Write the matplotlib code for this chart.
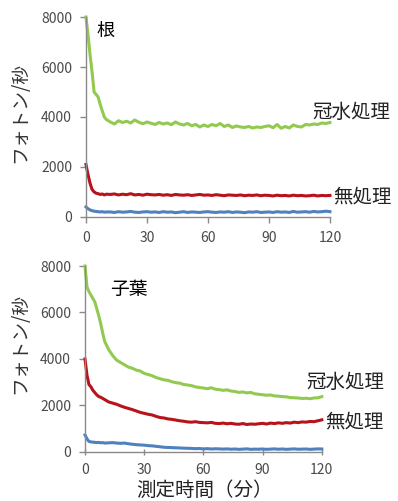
import matplotlib
matplotlib.use('Agg')
import matplotlib.pyplot as plt

plt.rcParams['font.family'] = ['Noto Sans CJK JP', 'DejaVu Sans']

# time axis (min): every minute for the first 10, then every 2 minutes
minutes = list(range(0, 11)) + list(range(12, 121, 2))

# root (根)
root_flooded = [8000, 7300, 6500, 5800, 5000, 4900, 4800, 4500, 4250, 4000, 3900,
                3800, 3720, 3850, 3780, 3830, 3760, 3880, 3790, 3730, 3800,
                3750, 3700, 3780, 3720, 3760, 3690, 3800, 3720, 3680, 3740,
                3650, 3700, 3600, 3680, 3620, 3700, 3650, 3740, 3620, 3680,
                3580, 3640, 3600, 3580, 3620, 3560, 3600, 3580, 3620, 3650,
                3570, 3700, 3550, 3620, 3560, 3680, 3620, 3600, 3700, 3680,
                3720, 3700, 3760, 3740, 3780]
root_control = [2100, 1700, 1350, 1100, 1000, 950, 930, 900, 920, 880, 910,
                900, 920, 880, 910, 890, 930, 880, 900, 870, 910,
                890, 880, 900, 870, 890, 860, 900, 880, 870, 890,
                860, 880, 900, 870, 880, 860, 890, 870, 850, 880,
                870, 860, 880, 850, 870, 860, 880, 850, 870, 860,
                840, 870, 850, 860, 840, 870, 850, 860, 840, 850,
                870, 840, 860, 850, 860]
root_dark = [400, 330, 280, 250, 230, 220, 210, 200, 210, 190, 200,
             200, 180, 210, 190, 200, 220, 190, 180, 200, 210,
             190, 200, 180, 210, 190, 200, 170, 190, 210, 180,
             200, 190, 180, 200, 210, 190, 180, 200, 190, 210,
             180, 200, 190, 170, 200, 190, 210, 180, 190, 200,
             180, 210, 190, 200, 180, 220, 190, 200, 210, 190,
             220, 200, 210, 230, 210]

# cotyledon (子葉)
leaf_flooded = [8000, 7100, 6900, 6750, 6600, 6450, 6150, 5850, 5500, 5100, 4750,
                4400, 4150, 3950, 3850, 3750, 3650, 3600, 3520, 3480, 3380,
                3330, 3280, 3200, 3150, 3100, 3080, 3020, 2980, 2960, 2900,
                2880, 2850, 2800, 2770, 2750, 2720, 2760, 2700, 2680, 2650,
                2670, 2620, 2600, 2560, 2580, 2540, 2560, 2500, 2480, 2460,
                2440, 2450, 2410, 2400, 2380, 2370, 2340, 2330, 2320, 2300,
                2310, 2290, 2320, 2330, 2380]
leaf_control = [4000, 3300, 2900, 2800, 2650, 2550, 2450, 2380, 2350, 2300, 2250,
                2150, 2100, 2050, 1980, 1920, 1870, 1820, 1760, 1700, 1660,
                1620, 1590, 1530, 1480, 1460, 1420, 1400, 1370, 1340, 1320,
                1290, 1280, 1300, 1270, 1260, 1250, 1270, 1230, 1220, 1240,
                1210, 1230, 1200, 1190, 1220, 1180, 1200, 1190, 1210, 1230,
                1200, 1240, 1220, 1250, 1230, 1260, 1240, 1280, 1260, 1290,
                1280, 1310, 1300, 1340, 1380]
leaf_dark = [730, 560, 450, 430, 420, 410, 400, 410, 390, 400, 380,
             390, 400, 380, 370, 380, 350, 330, 310, 300, 290,
             270, 260, 240, 220, 200, 190, 185, 175, 170, 160,
             155, 150, 140, 145, 130, 140, 125, 135, 130, 120,
             130, 115, 125, 110, 120, 130, 110, 120, 115, 125,
             110, 120, 130, 115, 125, 110, 120, 130, 115, 120,
             125, 110, 120, 130, 125]

x_ticks = [0, 30, 60, 90, 120]
y_ticks = [0, 2000, 4000, 6000, 8000]

GREEN = '#92c94f'
RED = '#b8121b'
BLUE = '#4f81bd'
GREY = '#8a8a8a'
TICKTXT = '#4a4a4a'

fig = plt.figure(figsize=(3.98, 5.01), dpi=100)
ax1 = fig.add_axes([0.216, 0.567, 0.613, 0.399])
ax2 = fig.add_axes([0.2136, 0.098, 0.595, 0.371])


def style(ax, tickdir):
    ax.set_xlim(0, 120)
    ax.set_ylim(0, 8000)
    ax.set_xticks(x_ticks)
    ax.set_yticks(y_ticks)
    for s in ['top', 'right']:
        ax.spines[s].set_visible(False)
    for s in ['left', 'bottom']:
        ax.spines[s].set_color(GREY)
        ax.spines[s].set_linewidth(1.0)
    ax.tick_params(axis='y', direction='out', length=4, width=1, color=GREY,
                   labelsize=10, labelcolor=TICKTXT, pad=6)
    ax.tick_params(axis='x', direction=tickdir, length=4, width=1, color=GREY,
                   labelsize=10, labelcolor=TICKTXT, pad=6)


def draw(ax, flooded, control, dark):
    ax.plot(minutes, dark, color=BLUE, lw=2.2, clip_on=False)
    ax.plot(minutes, control, color=RED, lw=2.2, clip_on=False)
    ax.plot(minutes, flooded, color=GREEN, lw=2.2, clip_on=False)


draw(ax1, root_flooded, root_control, root_dark)
style(ax1, 'out')
ax1.text(5, 7450, '根', fontsize=13, ha='left', va='center')
ax1.text(111.5, 4200, '冠水処理', fontsize=14, ha='left', va='center', color='#222222')
ax1.text(121.5, 800, '無処理', fontsize=14, ha='left', va='center', color='#222222')

draw(ax2, leaf_flooded, leaf_control, leaf_dark)
style(ax2, 'inout')
ax2.text(12.5, 6970, '子葉', fontsize=13.5, ha='left', va='center')
ax2.text(112, 2970, '冠水処理', fontsize=14, ha='left', va='center', color='#222222')
ax2.text(121.5, 1300, '無処理', fontsize=14, ha='left', va='center', color='#222222')

fig.text(20 / 398, 1 - 112 / 501, 'フォトン/秒', rotation=90, fontsize=13.5,
         ha='center', va='center', color='#333333')
fig.text(20 / 398, 1 - 343 / 501, 'フォトン/秒', rotation=90, fontsize=13.5,
         ha='center', va='center', color='#333333')
fig.text(204 / 398, 1 - 490 / 501, '測定時間（分）', fontsize=14,
         ha='center', va='center', color='#222222')

fig.savefig('out.png', dpi=100)
